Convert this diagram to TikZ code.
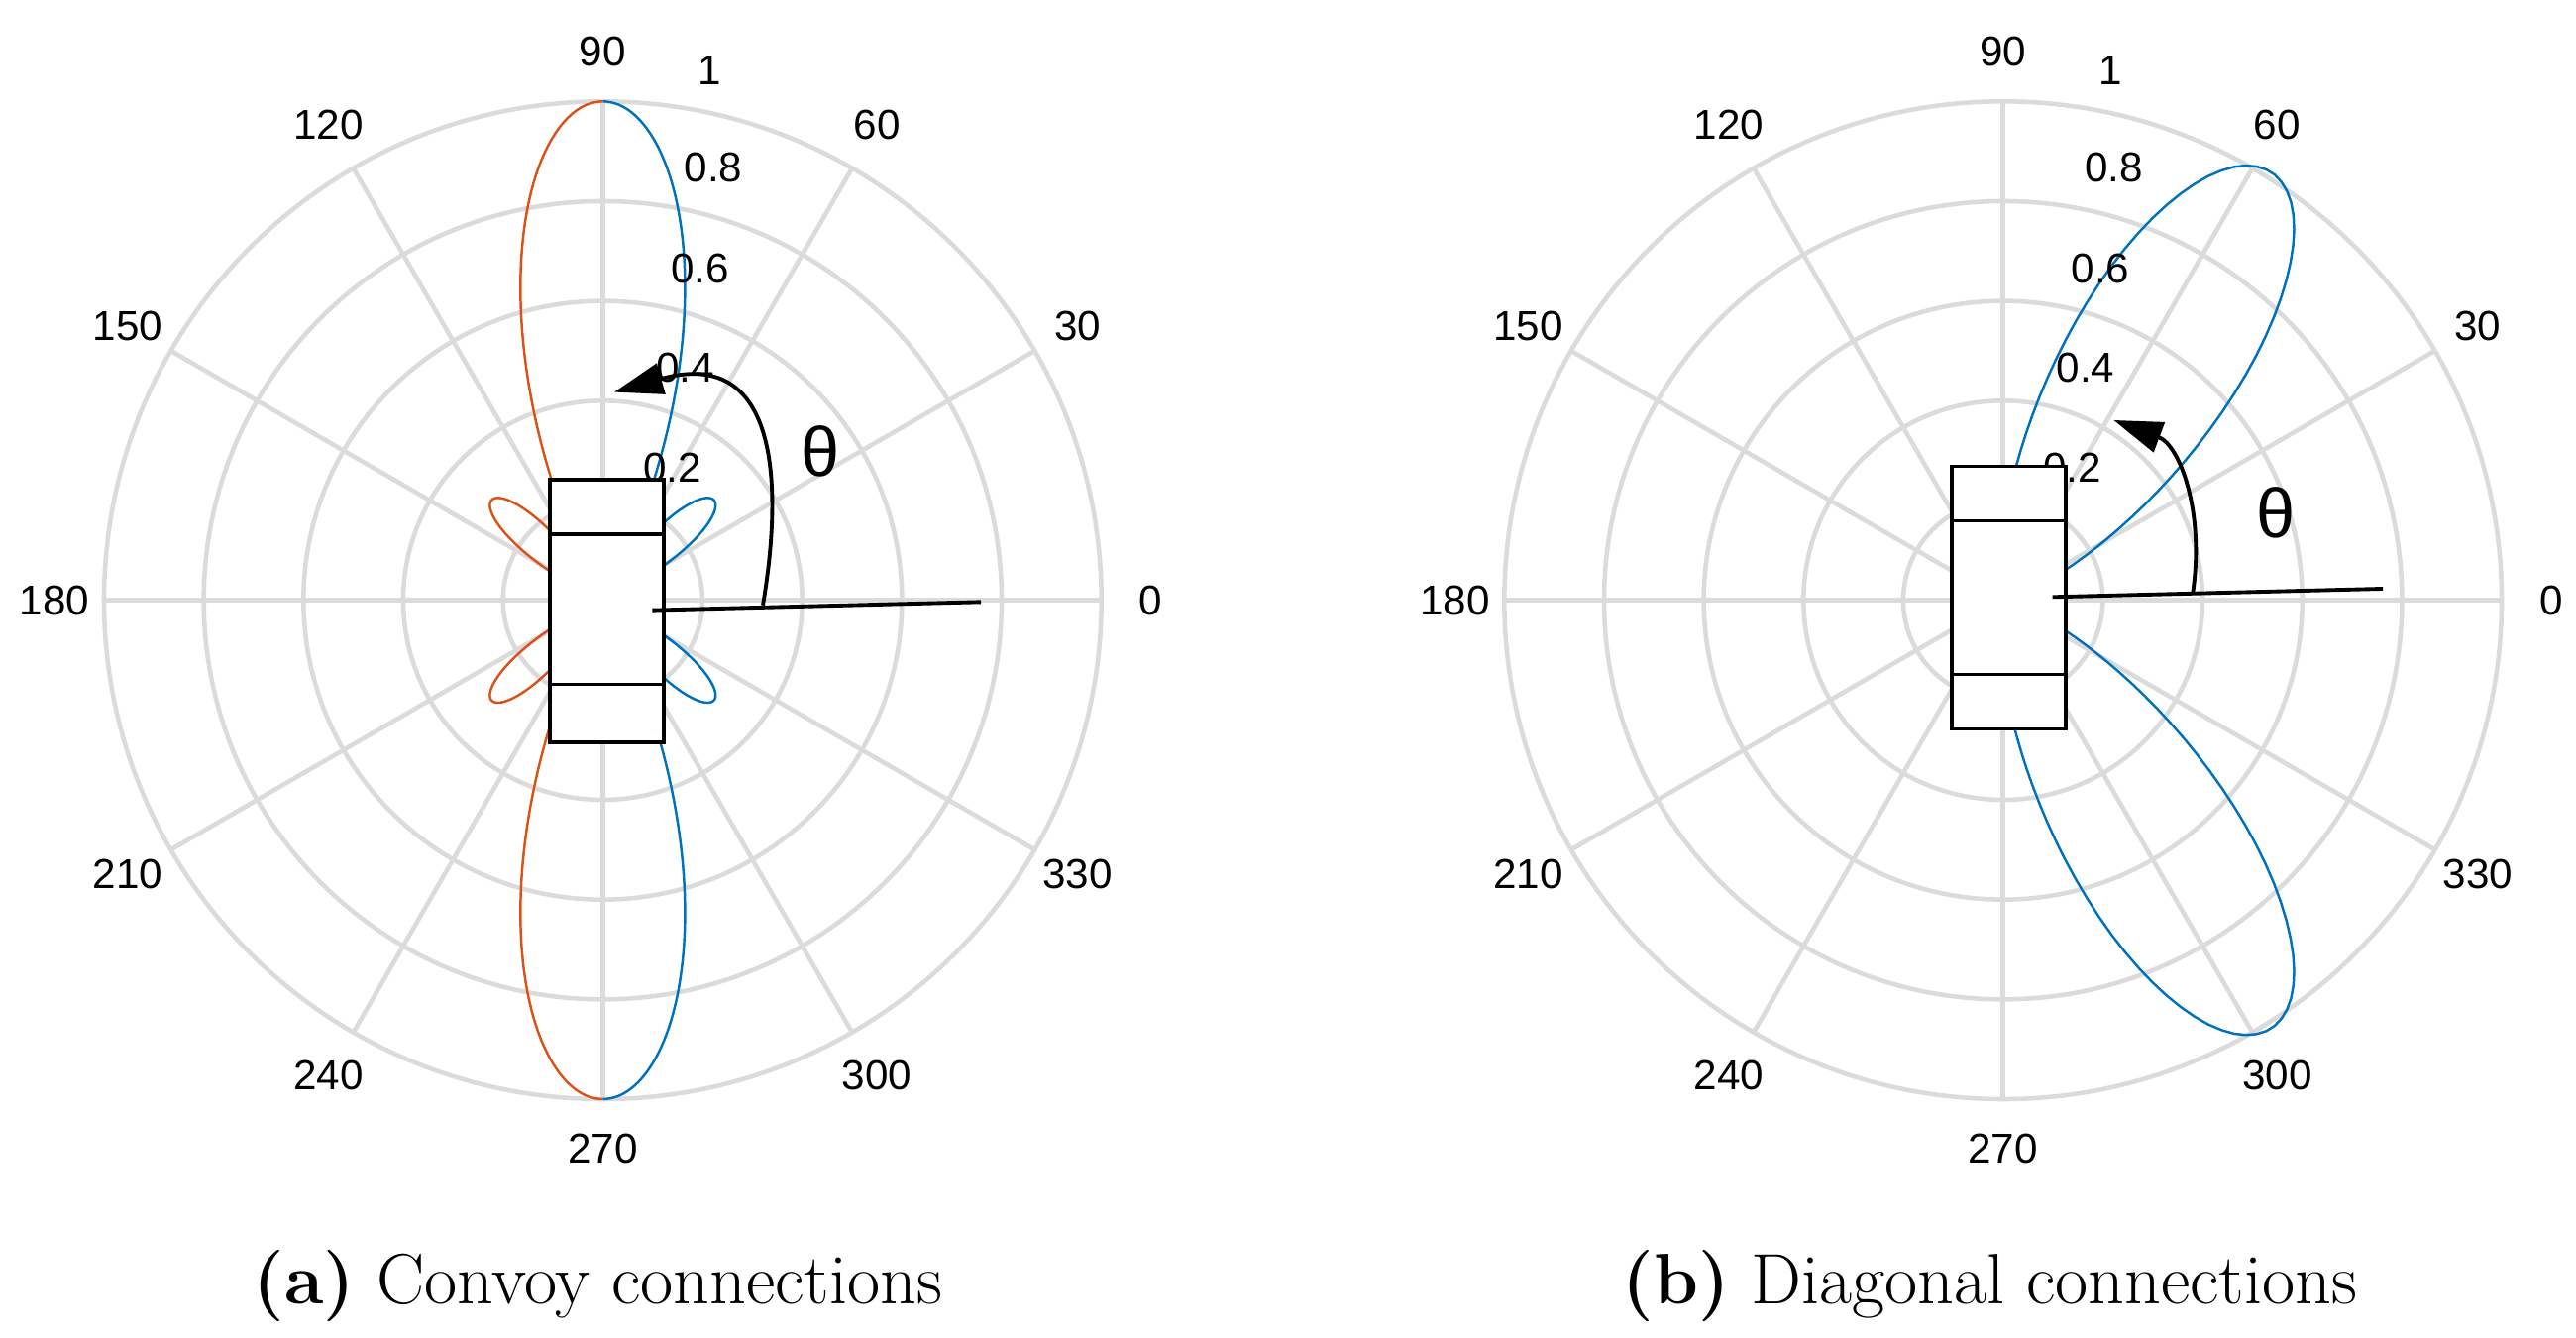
\documentclass[tikz,border=0pt]{standalone}
\usepackage{fontspec}
\newfontfamily\lsans{Liberation Sans}
\usetikzlibrary{arrows.meta}
\definecolor{mblue}{RGB}{0,114,189}
\definecolor{mred}{RGB}{217,83,25}
\begin{document}
\begin{tikzpicture}[x=1cm/60,y=1cm/60,
  grid/.style={draw=black!14,line width=1.3pt},
  lab/.style={font=\lsans\fontsize{12}{14}\selectfont,inner sep=0pt},
  curve/.style={line width=0.7pt},
  box/.style={draw=black,fill=white,line width=1pt},
  ang/.style={draw=black,line width=1.1pt},
  captext/.style={font=\fontsize{20.5}{24}\selectfont,inner sep=0pt}]
\useasboundingbox (0,0) rectangle (1560,809.4);
% ---------- polar grids ----------
\foreach \cx/\nm in {365/L,1213/R}{
  \begin{scope}[shift={(\cx,446)}]
    \foreach \k in {1,...,5} \draw[grid] (0,0) circle ({60.4*\k});
    \foreach \a in {0,30,...,330} \draw[grid] (0,0) -- (\a:302);
    \foreach \a in {0,30,...,330} \node[lab] (\nm a\a) at (\a:332) {\a};
  \end{scope}}
% ---------- left curves ----------
\foreach \sx/\sy/\c in {1/1/mblue,1/-1/mblue,-1/1/mred,-1/-1/mred}{
  \begin{scope}[shift={(365,446)},xscale=\sx,yscale=\sy]
    \draw[curve,\c] plot[domain=0:29.9,samples=80,variable=\t]
      ({302*(cos(3*\t))^1.3*sin(\t)},{302*(cos(3*\t))^1.3*cos(\t)});
    \draw[curve,\c] plot[domain=30:66,samples=60,variable=\t]
      ({302*0.3*sin(5*(\t-30))*sin(\t)},{302*0.3*sin(5*(\t-30))*cos(\t)});
  \end{scope}}
% ---------- right curves ----------
\foreach \sy in {1,-1}{
  \begin{scope}[shift={(1213,446)},yscale=\sy]
    \draw[curve,mblue] plot[domain=-89:89,samples=160,variable=\t]
      ({306*(cos(\t))^12*cos(58+\t)},{306*(cos(\t))^12*sin(58+\t)});
  \end{scope}}
% ---------- radial labels ----------
\foreach \cx/\nm in {365/L,1213/R}{
  \begin{scope}[shift={(\cx,446)}]
    \node[lab] (\nm r1) at (65,321) {1};
    \node[lab] (\nm r8) at (67,262) {0.8};
    \node[lab] (\nm r6) at (59,201) {0.6};
    \node[lab] (\nm r4) at (50,141) {0.4};
    \node[lab] (\nm r2) at (42,80) {0.2};
  \end{scope}}
% ---------- left vehicle ----------
\draw[box] (333,360) rectangle (402,519);
\coordinate (La) at (333,486); \coordinate (Lb) at (402,486);
\coordinate (Lc) at (333,395); \coordinate (Ld) at (402,395);
\draw[line width=1pt] (La) -- (Lb) (Lc) -- (Ld);
\coordinate (L0) at (395,440); \coordinate (L1) at (594,445);
\draw[ang] (L0) -- (L1);
\coordinate (Ls) at (462,443); \coordinate (Le) at (372,572);
\draw[ang,-{Triangle[length=14pt,width=9pt]}] (Ls) .. controls (475,520) and (470,600) .. (Le);
\node[font=\lsans\fontsize{20}{22}\selectfont] (Lth) at (497,536) {θ};
% ---------- right vehicle ----------
\draw[box] (1182,368) rectangle (1251,527);
\coordinate (Ra) at (1182,494); \coordinate (Rb) at (1251,494);
\coordinate (Rc) at (1182,401); \coordinate (Rd) at (1251,401);
\draw[line width=1pt] (Ra) -- (Rb) (Rc) -- (Rd);
\coordinate (R0) at (1243,448); \coordinate (R1) at (1443,453);
\draw[ang] (R0) -- (R1);
\coordinate (Rs) at (1328,451); \coordinate (Re) at (1280,555);
\draw[ang,-{Triangle[length=14pt,width=9pt]}] (Rs) .. controls (1335,500) and (1320,540) .. (Re);
\node[font=\lsans\fontsize{20}{22}\selectfont] (Rth) at (1378,499) {θ};
% ---------- captions ----------
\node[captext] (capa) at (362,31) {\textbf{(a)} Convoy connections};
\node[captext] (capb) at (1205,31) {\textbf{(b)} Diagonal connections};
\end{tikzpicture}
\end{document}
